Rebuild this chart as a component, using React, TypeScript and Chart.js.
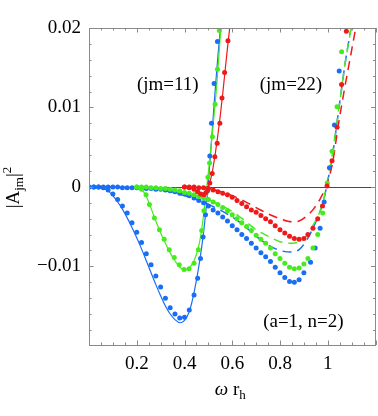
import React, { useEffect, useRef } from 'react';
import { Chart, registerables } from 'chart.js';

Chart.register(...registerables);

// ---- axis ticks ----
const xTicks = [0.2, 0.4, 0.6, 0.8, 1];
const xTickLabels = ['0.2', '0.4', '0.6', '0.8', '1'];
const yTicks = [-0.01, 0, 0.01, 0.02];
const yTickLabels = ['\u22120.01', '0', '0.01', '0.02'];

// ---- (jm=11) numerical dots ----
const blue11X = [0, 0.02, 0.04, 0.06, 0.08, 0.10, 0.12, 0.14, 0.16, 0.18, 0.20, 0.22, 0.24, 0.26, 0.28, 0.30, 0.32, 0.34, 0.36, 0.38, 0.40, 0.42, 0.44, 0.455, 0.467, 0.478, 0.488, 0.497, 0.506, 0.513, 0.524, 0.538];
const blue11Y = [0, 0, 0, -0.0001, -0.0004, -0.0009, -0.0016, -0.0024, -0.0033, -0.0045, -0.0057, -0.0070, -0.0084, -0.0098, -0.0112, -0.0126, -0.0140, -0.0152, -0.0160, -0.0165, -0.0164, -0.0155, -0.0136, -0.0115, -0.0090, -0.0063, -0.0035, -0.0005, 0.0039, 0.0080, 0.0130, 0.0183];
const green11X = [0.20, 0.22, 0.239, 0.253, 0.274, 0.295, 0.315, 0.336, 0.357, 0.378, 0.398, 0.419, 0.44, 0.458, 0.472, 0.481, 0.49, 0.498, 0.505, 0.517, 0.528, 0.538, 0.546];
const green11Y = [0, -0.0003, -0.0010, -0.0022, -0.0039, -0.0054, -0.0066, -0.0079, -0.0089, -0.0098, -0.0104, -0.0103, -0.0096, -0.0079, -0.0055, -0.0030, -0.0008, 0.0012, 0.0030, 0.0063, 0.0104, 0.0148, 0.0197];
const red11X = [0.40, 0.42, 0.44, 0.455, 0.468, 0.48, 0.49, 0.498, 0.506, 0.516, 0.527, 0.537, 0.548, 0.557, 0.568, 0.582];
const red11Y = [0, -0.0001, -0.0003, -0.0006, -0.0009, -0.0010, -0.0007, -0.0002, 0.0005, 0.0017, 0.0038, 0.0055, 0.0080, 0.0112, 0.0144, 0.0184];

// ---- (jm=11) approximation, solid lines ----
const blue11LX = [0, 0.04, 0.06, 0.08, 0.10, 0.12, 0.14, 0.16, 0.18, 0.20, 0.22, 0.24, 0.26, 0.28, 0.30, 0.32, 0.34, 0.36, 0.38, 0.40, 0.42, 0.44, 0.46, 0.48, 0.495, 0.51, 0.525, 0.54, 0.555];
const blue11LY = [0, -0.0001, -0.0002, -0.0005, -0.0011, -0.0019, -0.0028, -0.0039, -0.0051, -0.0064, -0.0078, -0.0093, -0.0108, -0.0123, -0.0137, -0.0150, -0.0160, -0.0167, -0.0171, -0.0168, -0.0157, -0.0133, -0.0100, -0.0057, -0.0012, 0.0045, 0.0108, 0.0165, 0.0215];
const green11LX = [0.20, 0.22, 0.24, 0.26, 0.28, 0.30, 0.32, 0.34, 0.36, 0.38, 0.40, 0.42, 0.44, 0.46, 0.475, 0.49, 0.505, 0.52, 0.535, 0.55, 0.56];
const green11LY = [0, -0.0003, -0.0012, -0.0027, -0.0043, -0.0058, -0.0071, -0.0083, -0.0093, -0.0101, -0.0105, -0.0102, -0.0093, -0.0074, -0.0047, -0.0008, 0.0032, 0.0078, 0.0128, 0.0190, 0.0230];
const red11LX = [0.40, 0.44, 0.465, 0.48, 0.49, 0.50, 0.51, 0.52, 0.53, 0.54, 0.55, 0.56, 0.57, 0.58, 0.595];
const red11LY = [0, -0.0003, -0.0009, -0.0011, -0.0007, 0, 0.0010, 0.0025, 0.0044, 0.0066, 0.0090, 0.0117, 0.0146, 0.0175, 0.0215];

// ---- (jm=22) numerical dots ----
const blue22X = [0, 0.02, 0.04, 0.06, 0.08, 0.10, 0.12, 0.14, 0.16, 0.18, 0.20, 0.22, 0.24, 0.26, 0.28, 0.30, 0.32, 0.34, 0.36, 0.38, 0.40, 0.42, 0.44, 0.46, 0.48, 0.50, 0.52, 0.54, 0.56, 0.58, 0.60, 0.62, 0.64, 0.66, 0.68, 0.70, 0.72, 0.74, 0.76, 0.78, 0.80, 0.82, 0.84, 0.86, 0.88, 0.90, 0.928, 0.947, 0.968, 0.985, 1.007, 1.028, 1.048];
const blue22Y = [0, 0, 0, 0, 0, 0, 0, -0.0001, -0.0001, -0.0001, -0.0001, -0.0001, -0.0002, -0.0002, -0.0003, -0.0003, -0.0004, -0.0005, -0.0006, -0.0008, -0.0009, -0.0011, -0.0014, -0.0017, -0.0020, -0.0024, -0.0029, -0.0033, -0.0038, -0.0043, -0.0049, -0.0054, -0.0060, -0.0065, -0.0071, -0.0077, -0.0083, -0.0088, -0.0094, -0.0101, -0.0108, -0.0114, -0.0119, -0.0120, -0.0117, -0.0108, -0.0095, -0.0077, -0.0052, -0.0019, 0.0024, 0.0078, 0.0146];
const green22X = [0.20, 0.22, 0.24, 0.26, 0.28, 0.30, 0.32, 0.34, 0.36, 0.38, 0.40, 0.42, 0.44, 0.46, 0.48, 0.50, 0.52, 0.54, 0.56, 0.58, 0.60, 0.62, 0.64, 0.66, 0.68, 0.70, 0.72, 0.74, 0.76, 0.78, 0.80, 0.82, 0.84, 0.86, 0.88, 0.90, 0.917, 0.938, 0.958, 0.979, 0.998, 1.018, 1.039, 1.058];
const green22Y = [0, 0, 0, -0.0001, -0.0001, -0.0002, -0.0002, -0.0003, -0.0004, -0.0005, -0.0007, -0.0008, -0.0010, -0.0012, -0.0014, -0.0016, -0.0019, -0.0022, -0.0026, -0.0030, -0.0035, -0.0040, -0.0045, -0.0050, -0.0055, -0.0061, -0.0066, -0.0071, -0.0077, -0.0084, -0.0090, -0.0096, -0.0101, -0.0103, -0.0102, -0.0097, -0.0090, -0.0077, -0.0060, -0.0033, 0.0005, 0.0045, 0.0101, 0.0170];
const red22X = [0.40, 0.42, 0.44, 0.46, 0.48, 0.50, 0.52, 0.54, 0.56, 0.58, 0.60, 0.62, 0.64, 0.66, 0.68, 0.70, 0.72, 0.74, 0.76, 0.78, 0.80, 0.82, 0.84, 0.86, 0.88, 0.90, 0.917, 0.938, 0.958, 0.978, 0.997, 1.018, 1.039, 1.058, 1.078];
const red22Y = [0, 0, 0, -0.0001, -0.0001, -0.0002, -0.0004, -0.0006, -0.0008, -0.0010, -0.0013, -0.0017, -0.0021, -0.0025, -0.0029, -0.0032, -0.0036, -0.0040, -0.0044, -0.0049, -0.0054, -0.0058, -0.0062, -0.0065, -0.0066, -0.0065, -0.0060, -0.0052, -0.0040, -0.0024, 0.0001, 0.0033, 0.0075, 0.0129, 0.0196];

// ---- (jm=22) approximation, dashed lines ----
const blue22LX = [0, 0.2, 0.3, 0.4, 0.5, 0.6, 0.65, 0.7, 0.75, 0.8, 0.85, 0.88, 0.91, 0.935, 0.96, 0.98, 0.995, 1.02, 1.05, 1.075, 1.1, 1.11];
const blue22LY = [0, -0.0001, -0.0004, -0.0011, -0.0022, -0.0038, -0.0049, -0.0062, -0.0073, -0.0080, -0.0082, -0.0079, -0.0068, -0.0054, -0.0037, -0.0020, 0, 0.0040, 0.0106, 0.0160, 0.0205, 0.0228];
const green22LX = [0.2, 0.3, 0.4, 0.5, 0.6, 0.65, 0.7, 0.75, 0.8, 0.85, 0.88, 0.91, 0.935, 0.96, 0.98, 0.995, 1.02, 1.05, 1.075, 1.1, 1.11];
const green22LY = [0, -0.0002, -0.0007, -0.0016, -0.0031, -0.0042, -0.0054, -0.0062, -0.0069, -0.0071, -0.0069, -0.0062, -0.0050, -0.0036, -0.0020, 0.0002, 0.0043, 0.0106, 0.0160, 0.0205, 0.0228];
const red22LX = [0.4, 0.5, 0.6, 0.65, 0.7, 0.75, 0.8, 0.85, 0.88, 0.91, 0.94, 0.97, 0.995, 1.02, 1.045, 1.07, 1.1, 1.12, 1.13];
const red22LY = [0, -0.0002, -0.0011, -0.0018, -0.0026, -0.0034, -0.0040, -0.0044, -0.0043, -0.0037, -0.0028, -0.0014, 0.0002, 0.0030, 0.0079, 0.0123, 0.0172, 0.0205, 0.0222];

const BLUE = 'rgb(25,110,245)';
const GREEN = 'rgb(70,235,30)';
const RED = 'rgb(240,25,25)';
const FONT = "'Liberation Serif', 'Times New Roman', serif";
const FS = 19;

const pts = (xs: number[], ys: number[]) => xs.map((x, i) => ({ x, y: ys[i] }));

const dots = (label: string, xs: number[], ys: number[], color: string) => ({
  label,
  data: pts(xs, ys),
  showLine: false,
  pointRadius: 2.5,
  pointHoverRadius: 2.5,
  pointBorderWidth: 0,
  pointBackgroundColor: color,
  borderColor: color,
  backgroundColor: color,
});

const line = (label: string, xs: number[], ys: number[], color: string, dash: number[]) => ({
  label,
  data: pts(xs, ys),
  showLine: true,
  pointRadius: 0,
  pointHoverRadius: 0,
  borderColor: color,
  backgroundColor: color,
  borderWidth: dash.length ? 1.5 : 1.2,
  borderDash: dash,
  cubicInterpolationMode: 'monotone',
  fill: false,
  clip: 0,
});

function drawRich(ctx: CanvasRenderingContext2D, parts: { t: string; size: number; dy: number; italic?: boolean }[], cx: number, cy: number) {
  let total = 0;
  for (const p of parts) {
    ctx.font = `${p.italic ? 'italic ' : ''}${p.size}px ${FONT}`;
    total += ctx.measureText(p.t).width;
  }
  let x = cx - total / 2;
  ctx.textAlign = 'left';
  ctx.textBaseline = 'alphabetic';
  for (const p of parts) {
    ctx.font = `${p.italic ? 'italic ' : ''}${p.size}px ${FONT}`;
    ctx.fillText(p.t, x, cy + p.dy);
    x += ctx.measureText(p.t).width;
  }
}

const framePlugin = {
  id: 'mmaFrame',
  beforeDatasetsDraw(chart: any) {
    const { ctx, chartArea, scales } = chart;
    const y0 = Math.round(scales.y.getPixelForValue(0)) + 0.5;
    ctx.save();
    ctx.strokeStyle = '#4a4a4a';
    ctx.lineWidth = 1;
    ctx.beginPath();
    ctx.moveTo(chartArea.left, y0);
    ctx.lineTo(chartArea.right, y0);
    ctx.stroke();
    ctx.restore();
  },
  afterDraw(chart: any) {
    const { ctx, chartArea, scales } = chart;
    const { left, right, top, bottom } = chartArea;
    const xs = scales.x;
    const ys = scales.y;
    ctx.save();
    ctx.strokeStyle = '#8a8a8a';
    ctx.lineWidth = 1;
    ctx.strokeRect(left + 0.5, top + 0.5, right - left - 0.5, bottom - top);
    ctx.beginPath();
    for (let i = 0; i <= 24; i++) {
      const px = Math.round(xs.getPixelForValue(i * 0.05)) + 0.5;
      const len = i % 4 === 0 ? 4.5 : 2.5;
      ctx.moveTo(px, bottom);
      ctx.lineTo(px, bottom - len);
      ctx.moveTo(px, top);
      ctx.lineTo(px, top + len);
    }
    for (let i = -9; i <= 10; i++) {
      const py = Math.round(ys.getPixelForValue(i * 0.002)) + 0.5;
      const len = i % 5 === 0 ? 4.5 : 2.5;
      ctx.moveTo(left, py);
      ctx.lineTo(left + len, py);
      ctx.moveTo(right, py);
      ctx.lineTo(right - len, py);
    }
    ctx.stroke();

    ctx.fillStyle = '#000';
    // annotations
    ctx.font = `${FS}px ${FONT}`;
    ctx.textAlign = 'center';
    ctx.textBaseline = 'middle';
    ctx.fillText('(jm=11)', xs.getPixelForValue(0.33), ys.getPixelForValue(0.0128));
    ctx.fillText('(jm=22)', xs.getPixelForValue(0.846), ys.getPixelForValue(0.0128));
    ctx.fillText('(a=1, n=2)', xs.getPixelForValue(0.898), ys.getPixelForValue(-0.0170));

    // x title: ω r_h
    drawRich(ctx, [
      { t: '\u03c9', size: FS, dy: 0, italic: true },
      { t: ' r', size: FS, dy: 0 },
      { t: 'h', size: 13, dy: 4 },
    ], (left + right) / 2 - 2, 395);

    // y title: |A_jm|^2
    ctx.save();
    ctx.translate(19, (top + bottom) / 2 + 1);
    ctx.rotate(-Math.PI / 2);
    drawRich(ctx, [
      { t: '|A', size: FS, dy: 0 },
      { t: 'jm', size: 13, dy: 4 },
      { t: '|', size: FS, dy: 0 },
      { t: '2', size: 13, dy: -8 },
    ], 0, 0);
    ctx.restore();
    ctx.restore();
  },
};

export default function App() {
  const ref = useRef<HTMLCanvasElement>(null);
  useEffect(() => {
    const tickFont = { family: FONT, size: FS };
    const chart = new Chart(ref.current as HTMLCanvasElement, {
      type: 'scatter',
      data: {
        datasets: [
          dots('red22', red22X, red22Y, RED),
          dots('red11', red11X, red11Y, RED),
          dots('green22', green22X, green22Y, GREEN),
          dots('green11', green11X, green11Y, GREEN),
          dots('blue22', blue22X, blue22Y, BLUE),
          dots('blue11', blue11X, blue11Y, BLUE),
          line('red11L', red11LX, red11LY, RED, []),
          line('green11L', green11LX, green11LY, GREEN, []),
          line('blue11L', blue11LX, blue11LY, BLUE, []),
          line('red22L', red22LX, red22LY, RED, [9, 6]),
          line('green22L', green22LX, green22LY, GREEN, [9, 6]),
          line('blue22L', blue22LX, blue22LY, BLUE, [9, 6]),
        ] as any,
      },
      options: {
        responsive: false,
        animation: false,
        events: [],
        layout: { padding: { top: 28, right: 1, left: 0, bottom: 0 } },
        plugins: { legend: { display: false }, tooltip: { enabled: false } },
        scales: {
          x: {
            type: 'linear',
            min: 0,
            max: 1.2,
            grid: { display: false, drawTicks: false },
            border: { display: false },
            afterBuildTicks: (s: any) => { s.ticks = xTicks.map((v) => ({ value: v })); },
            afterFit: (s: any) => { s.height = 71; },
            ticks: {
              autoSkip: false,
              maxRotation: 0,
              padding: 8,
              color: '#000',
              font: tickFont,
              callback: (_v: any, i: number) => xTickLabels[i],
            },
          },
          y: {
            type: 'linear',
            min: -0.0199,
            max: 0.02,
            grid: { display: false, drawTicks: false },
            border: { display: false },
            afterBuildTicks: (s: any) => { s.ticks = yTicks.map((v) => ({ value: v })); },
            afterFit: (s: any) => { s.width = 89; },
            ticks: {
              autoSkip: false,
              padding: 8,
              color: '#000',
              font: tickFont,
              callback: (_v: any, i: number) => yTickLabels[i],
            },
          },
        },
      } as any,
      plugins: [framePlugin],
    });
    return () => chart.destroy();
  }, []);
  return (
    <div style={{ position: 'fixed', left: 0, top: 0, width: 378, height: 416, background: '#fff' }}>
      <canvas ref={ref} width={378} height={416} style={{ width: 378, height: 416, display: 'block' }} />
    </div>
  );
}
